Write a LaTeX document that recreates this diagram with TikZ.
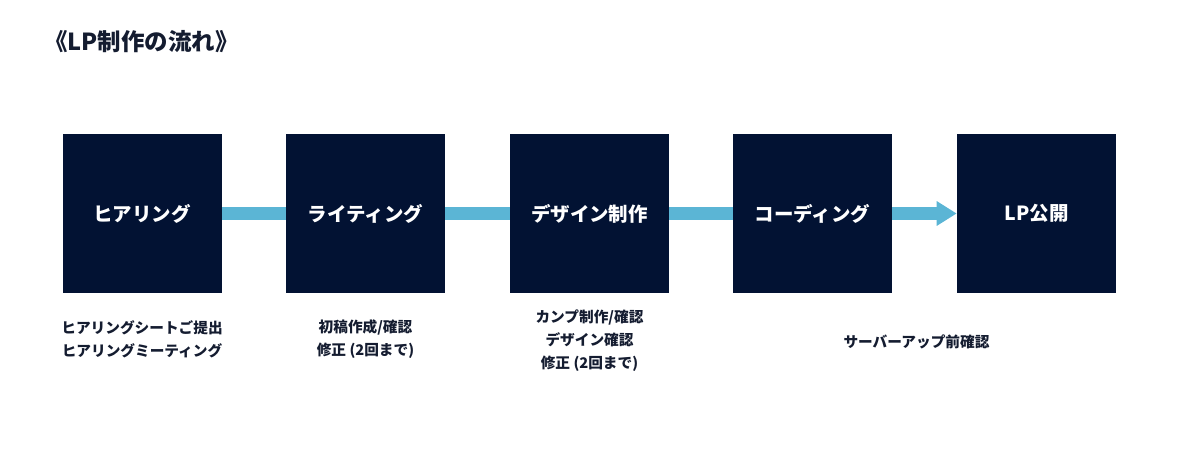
\documentclass[tikz,border=0pt]{standalone}
\usepackage{fontspec}
\setmainfont{Noto Sans CJK JP}
\usetikzlibrary{arrows.meta}
\definecolor{navy}{HTML}{021233}
\definecolor{flowblue}{HTML}{5BB5D5}
\definecolor{inkdark}{HTML}{141C30}
\tikzset{
  stepbox/.style={fill=navy, minimum width=119.25pt, minimum height=119.25pt,
    inner sep=0pt, text=white, font=\bfseries\fontsize{14.6}{16}\selectfont},
  note/.style={align=center, text=inkdark, inner sep=0pt,
    font=\bfseries\fontsize{11}{17.2}\selectfont},
  flow/.style={flowblue, line width=9.2pt}
}
\begin{document}
\begin{tikzpicture}[x=0.75pt, y=0.75pt]
  \useasboundingbox (0,0) rectangle (1200,465);
  \node[anchor=west, inner sep=0pt, text=inkdark, font=\bfseries\fontsize{17.6}{19}\selectfont]
    (title) at (44,423.5) {《LP制作の流れ》};
  \node[stepbox] (hearing)  at (142,251.5)  {ヒアリング};
  \node[stepbox] (writing)  at (365.5,251.5) {ライティング};
  \node[stepbox] (design)   at (589.5,251.5) {デザイン制作};
  \node[stepbox] (coding)   at (812.5,251.5) {コーディング};
  \node[stepbox] (publish)  at (1036.5,251.5) {LP公開};
  \draw[flow] (hearing.east) -- (writing.west);
  \draw[flow] (writing.east) -- (design.west);
  \draw[flow] (design.east) -- (coding.west);
  \draw[flow, -{Triangle[length=15pt, width=17.5pt]}] (coding.east) -- (publish.west);
  \node[note] (hearingnote) at (142,125.5) {ヒアリングシートご提出\\ヒアリングミーティング};
  \node[note] (writingnote) at (365.5,125.5) {初稿作成/確認\\修正 (2回まで)};
  \node[note] (designnote)  at (589.5,124) {カンプ制作/確認\\デザイン確認\\修正 (2回まで)};
  \node[note] (codingnote)  at (916.5,123) {サーバーアップ前確認};
\end{tikzpicture}
\end{document}
